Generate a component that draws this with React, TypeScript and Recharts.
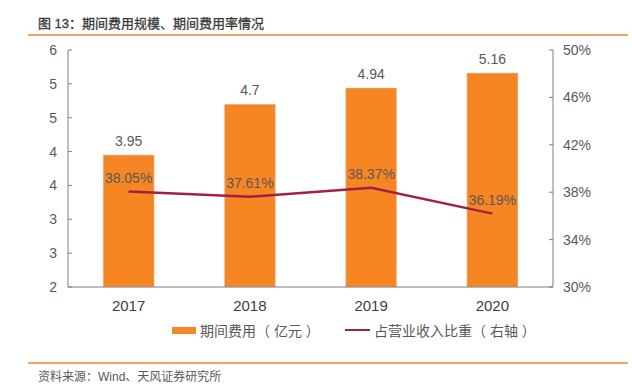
import {
  ComposedChart, Bar, Line, XAxis, YAxis, LabelList, Legend,
} from "recharts";

const years = ["2017", "2018", "2019", "2020"];
const expense = [3.95, 4.7, 4.94, 5.16];
const ratio = [38.05, 37.61, 38.37, 36.19];
const leftTicks = [2, 2.5, 3, 3.5, 4, 4.5, 5, 5.5];
const rightTicks = [30, 34, 38, 42, 46, 50];

const data = years.map((year, i) => ({ year, expense: expense[i], ratio: ratio[i] }));

const FONT = "'Liberation Sans', Arial, 'Noto Sans CJK SC', sans-serif";
const ORANGE = "#F68523";
const MAROON = "#A3213F";
const AXIS = "#7f7f7f";
const TEXT = "#595959";

function LegendContent() {
  return (
    <div style={{ position: "relative", height: 20, fontSize: 14, color: TEXT, fontFamily: FONT }}>
      <div style={{ position: "absolute", left: 172, top: 0, display: "flex", alignItems: "center", whiteSpace: "nowrap" }}>
        <span style={{ width: 24, height: 7, background: ORANGE, display: "inline-block", marginRight: 4 }} />
        期间费用（ 亿元 ）
      </div>
      <div style={{ position: "absolute", left: 345, top: 0, display: "flex", alignItems: "center", whiteSpace: "nowrap" }}>
        <span style={{ width: 25, height: 2, background: MAROON, display: "inline-block", marginRight: 4 }} />
        占营业收入比重（ 右轴 ）
      </div>
    </div>
  );
}

export default function App() {
  return (
    <div style={{ position: "absolute", left: 0, top: 0, width: 632, height: 387, background: "#fff", fontFamily: FONT }}>
      {/* title */}
      <div style={{ position: "absolute", left: 38, top: 13, fontSize: 13, color: "#3a3a3a", WebkitTextStroke: "0.3px #3a3a3a" }}>
        图 13：期间费用规模、期间费用率情况
      </div>
      <div style={{ position: "absolute", left: 28, top: 34, width: 600, height: 2, background: "#F4A460" }} />

      <div style={{ position: "absolute", left: 0, top: 0 }}>
        <ComposedChart
          width={632}
          height={387}
          data={data}
          margin={{ top: 50, right: 19, bottom: 70, left: 8 }}
          barCategoryGap="29%"
        >
          <XAxis
            dataKey="year"
            height={30}
            stroke={AXIS}
            tickLine={false}
            tick={{ fontSize: 15, fill: "#404040" }}
            tickMargin={7}
          />
          <YAxis
            yAxisId="left"
            width={60}
            domain={[2, 5.5]}
            ticks={leftTicks}
            interval={0}
            tickFormatter={(v: number) => String(Math.round(v))}
            stroke={AXIS}
            tickSize={-4}
            tickMargin={15}
            tick={{ fontSize: 14, fill: TEXT }}
          />
          <YAxis
            yAxisId="right"
            orientation="right"
            width={60}
            domain={[30, 50]}
            ticks={rightTicks}
            interval={0}
            tickFormatter={(v: number) => `${v}%`}
            stroke={AXIS}
            tickSize={-4}
            tickMargin={14}
            tick={{ fontSize: 14, fill: TEXT }}
          />
          <Bar yAxisId="left" dataKey="expense" fill={ORANGE} stroke="#d9d9d9" strokeWidth={0.5} isAnimationActive={false}>
            <LabelList dataKey="expense" position="top" offset={9} fill={TEXT} fontSize={14} />
          </Bar>
          <Line
            yAxisId="right"
            dataKey="ratio"
            type="linear"
            stroke={MAROON}
            strokeWidth={2.5}
            dot={false}
            isAnimationActive={false}
          >
            <LabelList
              dataKey="ratio"
              position="top"
              offset={9}
              fill={TEXT}
              fontSize={14}
              formatter={(v: number) => `${v.toFixed(2)}%`}
            />
          </Line>
          <Legend
            verticalAlign="middle"
            align="center"
            layout="horizontal"
            wrapperStyle={{ top: 320, left: 0, width: 632 }}
            content={() => <LegendContent />}
          />
        </ComposedChart>
      </div>

      {/* source */}
      <div style={{ position: "absolute", left: 28, top: 362, width: 600, height: 2, background: "#F4A460" }} />
      <div style={{ position: "absolute", left: 38, top: 367, fontSize: 12, color: TEXT }}>
        资料来源：Wind、天风证券研究所
      </div>
    </div>
  );
}
